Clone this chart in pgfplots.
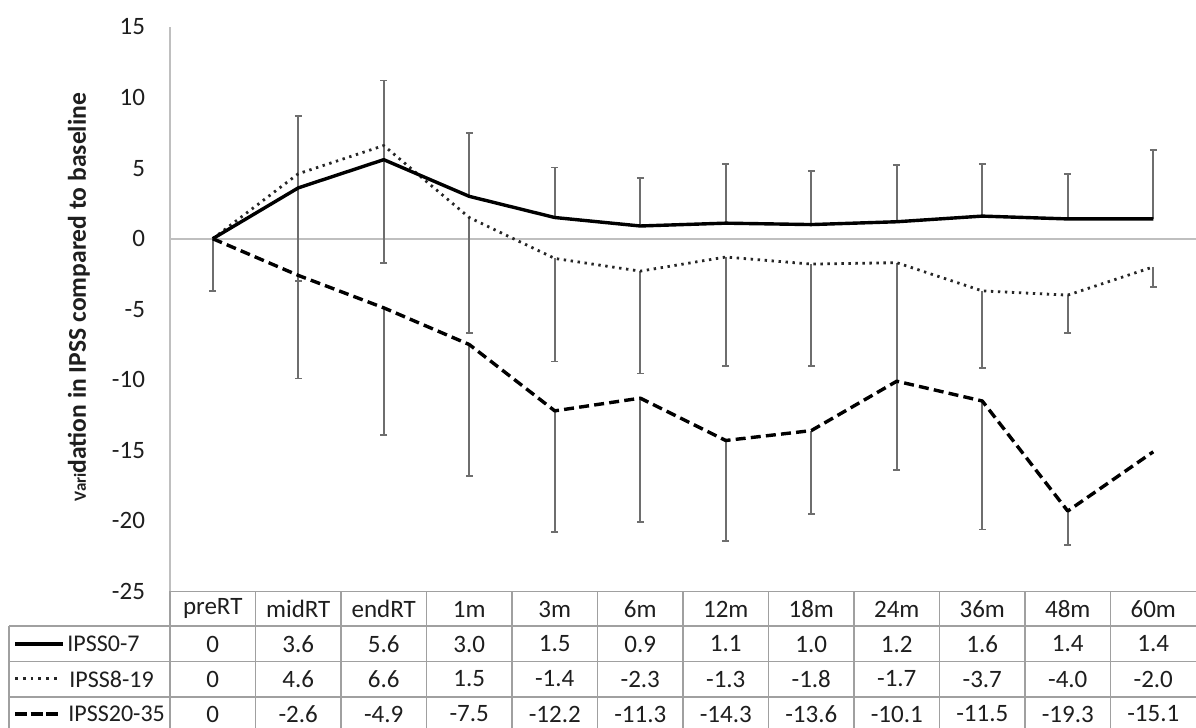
\documentclass[border=0pt]{standalone}
\usepackage{pgfplots}
\usepackage{pgfplotstable}
\pgfplotsset{compat=1.18}
\usepackage{fontspec}
\setmainfont{Carlito}

% Mean change from baseline (y) and one-sided error bar length (ep)
\pgfplotstableread{
x  y    ep
0  0    0
1  3.6  5.1
2  5.6  5.6
3  3.0  4.5
4  1.5  3.55
5  0.9  3.4
6  1.1  4.2
7  1.0  3.8
8  1.2  4.0
9  1.6  3.7
10 1.4  3.2
11 1.4  4.9
}\lowtab

\pgfplotstableread{
x  y    ep
0  0    3.7
1  4.6  7.6
2  6.6  8.3
3  1.5  8.2
4  -1.4 7.3
5  -2.3 7.25
6  -1.3 7.7
7  -1.8 7.2
8  -1.7 14.7
9  -3.7 5.45
10 -4.0 2.7
11 -2.0 1.4
}\midtab

\pgfplotstableread{
x  y     ep
0  0     0
1  -2.6  7.3
2  -4.9  9.0
3  -7.5  9.3
4  -12.2 8.6
5  -11.3 8.8
6  -14.3 7.1
7  -13.6 5.9
8  -10.1 0
9  -11.5 9.1
10 -19.3 2.4
11 -15.1 0
}\hightab

\definecolor{gridgray}{RGB}{191,191,191}
\definecolor{tablegray}{RGB}{160,160,160}
\definecolor{errgray}{RGB}{110,110,110}
\definecolor{txt}{RGB}{30,30,30}

\tikzset{
  s low/.style={black, line width=1.7pt, line join=round},
  s mid/.style={black!85, line width=1.4pt, dash pattern=on 1.2pt off 2.3pt, line join=round},
  s high/.style={black, line width=1.7pt, dash pattern=on 5pt off 2.6pt, line join=round},
  cell/.style={font=\fontsize{12.5}{14}\selectfont, text=txt},
  key/.style={font=\fontsize{12}{14}\selectfont, text=txt, anchor=west, inner sep=0pt},
}

\pgfplotsset{
  ebars/.style={draw=none, mark=none, forget plot,
    restrict expr to domain={\thisrow{ep}}{0.01:100},
    error bars/.cd, y dir=#1, y explicit,
    error bar style={errgray, line width=0.85pt},
    error mark options={rotate=90, errgray, line width=0.85pt, mark size=1.7pt}},
}

\begin{document}
\begin{tikzpicture}
\useasboundingbox (0,0) rectangle (598pt,364pt);
\begin{axis}[
  at={(85pt,68.25pt)}, anchor=south west,
  scale only axis, width=513pt, height=282.25pt,
  xmin=-0.5, xmax=11.5, ymin=-25, ymax=15,
  axis x line=none, axis y line*=left,
  axis line style={draw=gridgray, line width=0.8pt, -},
  xtick=\empty,
  ytick={-25,-20,...,15},
  major tick length=0pt,
  /pgf/number format/assume math mode=true,
  yticklabel style={font=\fontsize{12.5}{14}\selectfont, text=txt, anchor=east, xshift=-9pt},
  clip=false,
]
\draw[gridgray, line width=1pt] (axis cs:-0.5,0) -- (axis cs:11.5,0);

\addplot[ebars=plus]  table[x=x, y=y, y error=ep] {\lowtab};
\addplot[ebars=minus] table[x=x, y=y, y error=ep] {\midtab};
\addplot[ebars=minus] table[x=x, y=y, y error=ep] {\hightab};

\addplot[s mid,  mark=none] table[x=x, y=y] {\midtab};
\addplot[s high, mark=none] table[x=x, y=y] {\hightab};
\addplot[s low,  mark=none] table[x=x, y=y] {\lowtab};
\end{axis}

% data table under the plot, laid out on a 1 unit = 1 px grid from the top-left corner
\begin{scope}[x=0.5pt, y=-0.5pt, shift={(0pt,364pt)}]
  \node[rotate=90, font=\bfseries\fontsize{12.8}{14}\selectfont, text=txt] at (79,297)
    {{\fontsize{8.5}{9}\selectfont Vari}dation in IPSS compared to baseline};

  \draw[tablegray, line width=0.75pt] (170,591.5) -- (1196,591.5);
  \foreach \yy in {626,661.5,697}
    \draw[tablegray, line width=0.75pt] (9,\yy) -- (1196,\yy);
  \draw[tablegray, line width=0.75pt] (9,626) -- (9,730);
  \foreach \k in {0,...,11}
    \draw[tablegray, line width=0.75pt] (170+85.5*\k,591.5) -- (170+85.5*\k,730);

  \foreach \n [count=\i from 0] in {preRT,midRT,endRT,1m,3m,6m,12m,18m,24m,36m,48m,60m}
    \node[cell] at (212.75+85.5*\i,609) {\n};

  \foreach \i in {0,...,11} {
    \pgfplotstablegetelem{\i}{y}\of\lowtab
    \node[cell] at (212.75+85.5*\i,644) {\pgfplotsretval};
    \pgfplotstablegetelem{\i}{y}\of\midtab
    \node[cell] at (212.75+85.5*\i,679) {\pgfplotsretval};
    \pgfplotstablegetelem{\i}{y}\of\hightab
    \node[cell] at (212.75+85.5*\i,714) {\pgfplotsretval};
  }

  \draw[black, line width=2.2pt] (15,644) -- (63,644);
  \draw[black!85, line width=1.5pt, dash pattern=on 1.4pt off 2.5pt] (15,679) -- (60,679);
  \draw[black, line width=2.2pt, dash pattern=on 6pt off 1.8pt] (15,714) -- (60,714);
  \node[key] at (67,644) {IPSS0-7};
  \node[key] at (69,679) {IPSS8-19};
  \node[key] at (68,714) {IPSS20-35};
\end{scope}
\end{tikzpicture}
\end{document}
